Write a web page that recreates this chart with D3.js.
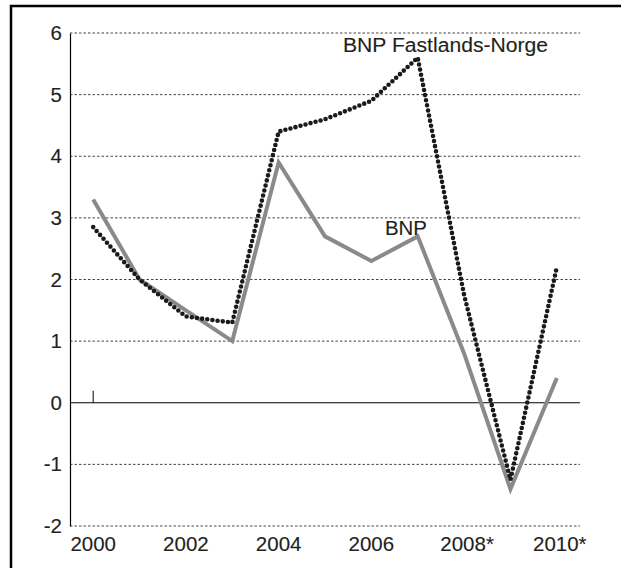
<!DOCTYPE html>
<html>
<head>
<meta charset="utf-8">
<script src="https://cdn.jsdelivr.net/npm/d3@7"></script>
<style>
  body { margin: 0; background: #fff; }
  svg text { font-family: "Liberation Sans", Arial, sans-serif; fill: #231f20; stroke: #231f20; stroke-width: 0.12px; }
</style>
</head>
<body>
<div id="main"></div>
<script>
const years = ['2000', '2001', '2002', '2003', '2004', '2005', '2006', '2007', '2008', '2009', '2010'];
const yearLabels = ['2000', '', '2002', '', '2004', '', '2006', '', '2008*', '', '2010*'];
const bnp = [3.3, 2.0, 1.5, 1.0, 3.9, 2.7, 2.3, 2.7, 0.8, -1.4, 0.4];
const bnpFastland = [2.85, 2.0, 1.4, 1.3, 4.4, 4.6, 4.9, 5.6, 1.75, -1.25, 2.2];
const yTicks = [-2, -1, 0, 1, 2, 3, 4, 5, 6];

renderChart();

function renderChart(){
    let svg = d3.select('#main').append('svg')
        .attr('width', 621)
        .attr('height', 568);

    // frame (right / bottom edges sit outside the picture)
    svg.append('rect')
        .attr('x', 11).attr('y', 6)
        .attr('width', 700).attr('height', 700)
        .attr('fill', 'none')
        .attr('stroke', '#000')
        .attr('stroke-width', 2.5);

    let x = d3.scaleBand().domain(years).range([70, 580]);
    let y = d3.scaleLinear().domain([-2, 6]).range([526, 33]);
    let cx = d => x(d) + x.bandwidth() / 2;

    // gridlines
    svg.append('g').selectAll('line')
        .data(yTicks.filter(t => t !== 0))
        .join('line')
        .attr('x1', 70).attr('x2', 580)
        .attr('y1', d => y(d)).attr('y2', d => y(d))
        .attr('stroke', '#444')
        .attr('stroke-width', 1)
        .attr('stroke-dasharray', '2.5,2');

    // y axis labels
    let yAxis = svg.append('g').attr('transform', 'translate(70,0)')
        .call(d3.axisLeft(y).tickValues(yTicks).tickSize(0).tickPadding(8).tickFormat(d => String(d)));
    yAxis.select('.domain').attr('stroke', '#000').attr('stroke-width', 1.2);
    yAxis.selectAll('text').style('font-size', '20.5px').attr('fill', '#231f20');

    // zero line
    svg.append('line')
        .attr('x1', 70).attr('x2', 580)
        .attr('y1', y(0)).attr('y2', y(0))
        .attr('stroke', '#000').attr('stroke-width', 1.2);

    // the single small tick above zero at 2000
    svg.append('line')
        .attr('x1', cx(years[0])).attr('x2', cx(years[0]))
        .attr('y1', y(0) - 12).attr('y2', y(0))
        .attr('stroke', '#000').attr('stroke-width', 1);

    // x labels
    svg.append('g').selectAll('text')
        .data(years)
        .join('text')
        .attr('x', d => cx(d) + (yearLabels[years.indexOf(d)].includes('*') ? 3 : 0))
        .attr('y', 551)
        .attr('text-anchor', 'middle')
        .style('font-size', '20.5px')
        .text((d, i) => yearLabels[i]);

    let line = d3.line()
        .x((d, i) => cx(years[i]))
        .y(d => y(d));

    svg.append('path')
        .datum(bnp)
        .attr('d', line)
        .attr('fill', 'none')
        .attr('stroke', '#8a8a8a')
        .attr('stroke-width', 4)
        .attr('stroke-linejoin', 'miter');

    svg.append('path')
        .datum(bnpFastland)
        .attr('d', line)
        .attr('fill', 'none')
        .attr('stroke', '#1a1a1a')
        .attr('stroke-width', 4.6)
        .attr('stroke-linecap', 'round')
        .attr('stroke-dasharray', '0,5.2');

    svg.append('text')
        .attr('x', 343).attr('y', 52)
        .attr('textLength', 205)
        .attr('lengthAdjust', 'spacingAndGlyphs')
        .style('font-size', '19.5px')
        .text('BNP Fastlands-Norge');

    svg.append('text')
        .attr('x', 385).attr('y', 235)
        .attr('textLength', 42)
        .attr('lengthAdjust', 'spacingAndGlyphs')
        .style('font-size', '19.5px')
        .text('BNP');
}
</script>
</body>
</html>
